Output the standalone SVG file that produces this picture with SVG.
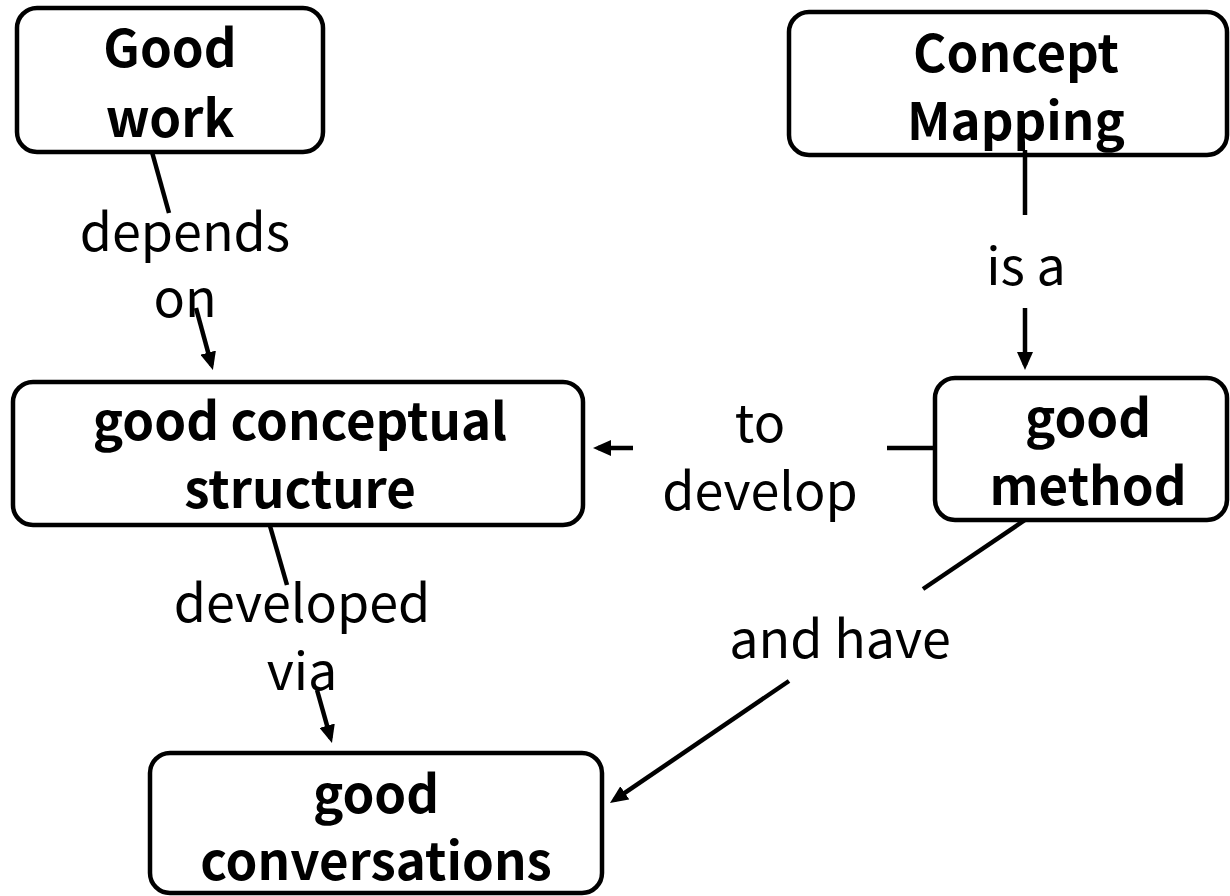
<svg xmlns="http://www.w3.org/2000/svg" width="1230" height="896" viewBox="0 0 1230 896">
<style>
.box{fill:#fff;stroke:#000;stroke-width:4.5}
.nt{font-family:"Noto Sans CJK SC","Noto Sans",sans-serif;font-weight:bold;font-size:51px;text-anchor:middle;fill:#000}
.lt{font-family:"Noto Sans CJK SC","Noto Sans",sans-serif;font-size:52px;text-anchor:middle;fill:#000}
.ln{stroke:#000;stroke-width:4.5;fill:none}
</style>
<defs>
<marker id="arr" markerUnits="userSpaceOnUse" markerWidth="18" markerHeight="16" refX="13" refY="8" orient="auto">
<path d="M0,0 L18,8 L0,16 z" fill="#000"/>
</marker>
</defs>
<rect width="1230" height="896" fill="#fff"/>
<g id="n-goodwork">
<rect class="box" x="17" y="8" width="306" height="144" rx="20"/>
<text class="nt" x="170" y="67">Good</text>
<text class="nt" x="170" y="137">work</text>
</g>
<g id="n-conceptmapping">
<rect class="box" x="789" y="12" width="438" height="143" rx="20"/>
<text class="nt" x="1016" y="72">Concept</text>
<text class="nt" x="1016" y="140">Mapping</text>
</g>
<g id="n-structure">
<rect class="box" x="13" y="382" width="570" height="143" rx="20"/>
<text class="nt" x="300" y="440">good conceptual</text>
<text class="nt" x="300" y="508">structure</text>
</g>
<g id="n-method">
<rect class="box" x="935" y="378" width="292" height="142" rx="20"/>
<text class="nt" x="1088" y="437">good</text>
<text class="nt" x="1088" y="505">method</text>
</g>
<g id="n-conversations">
<rect class="box" x="150" y="753" width="452" height="140" rx="20"/>
<text class="nt" x="376" y="813">good</text>
<text class="nt" x="376" y="880">conversations</text>
</g>
<g id="connectors">
<line class="ln" x1="152" y1="152" x2="169" y2="213"/>
<line class="ln" x1="196" y1="308" x2="211.6" y2="365.2" marker-end="url(#arr)"/>
<line class="ln" x1="1025" y1="150" x2="1025" y2="215"/>
<line class="ln" x1="1025" y1="308" x2="1025" y2="365" marker-end="url(#arr)"/>
<line class="ln" x1="935" y1="448" x2="887" y2="448"/>
<line class="ln" x1="633" y1="448" x2="598" y2="448" marker-end="url(#arr)"/>
<line class="ln" x1="1025" y1="520" x2="923" y2="589"/>
<line class="ln" x1="789" y1="681" x2="614.1" y2="800.2" marker-end="url(#arr)"/>
<line class="ln" x1="270" y1="526" x2="287" y2="585"/>
<line class="ln" x1="317" y1="690" x2="330.6" y2="738.2" marker-end="url(#arr)"/>
</g>
<g id="labels">
<text class="lt" x="185" y="251">depends</text>
<text class="lt" x="185" y="317">on</text>
<text class="lt" x="1026" y="285">is a</text>
<text class="lt" x="760" y="442">to</text>
<text class="lt" x="760" y="510">develop</text>
<text class="lt" x="840" y="658">and have</text>
<text class="lt" x="302" y="622">developed</text>
<text class="lt" x="302" y="690">via</text>
</g>
</svg>
